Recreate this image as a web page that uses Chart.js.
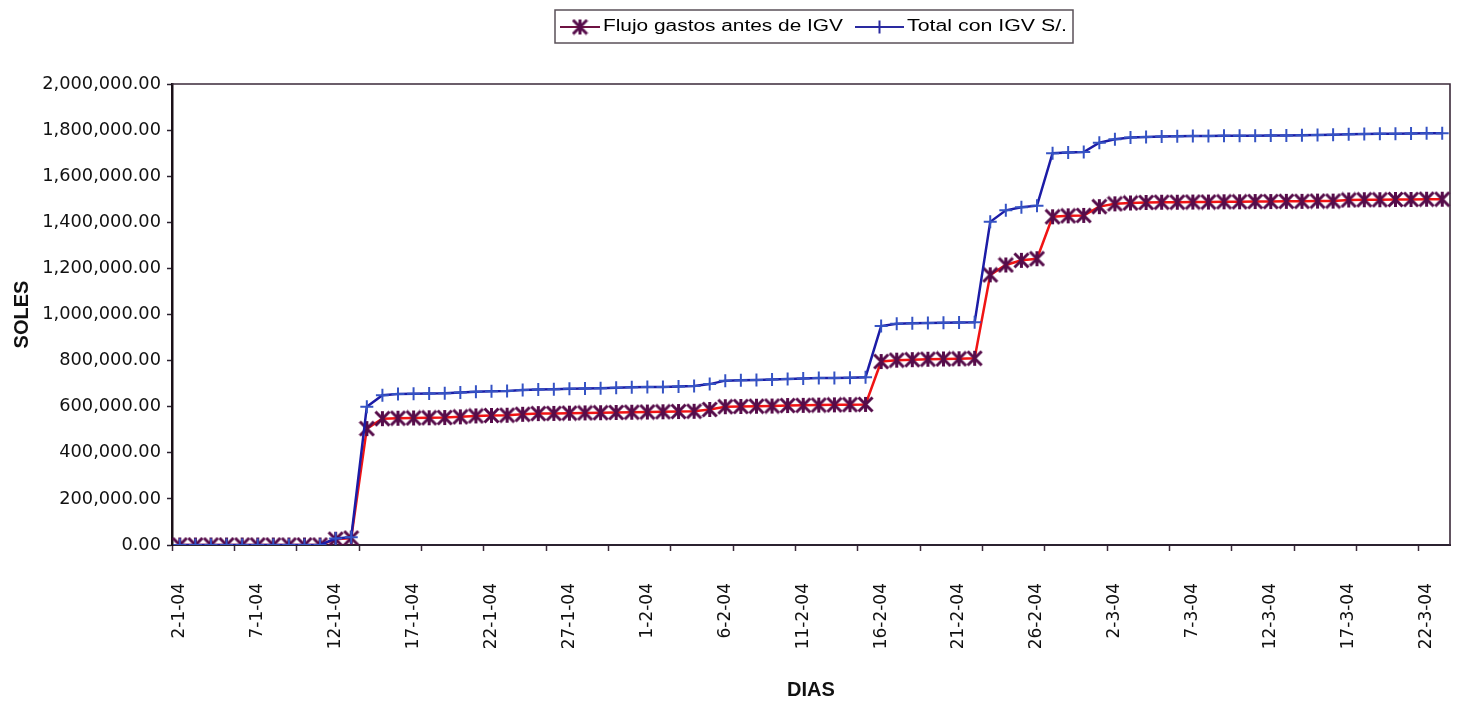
<!DOCTYPE html>
<html>
<head>
<meta charset="utf-8">
<script src="https://cdn.jsdelivr.net/npm/chart.js@4.4.1/dist/chart.umd.min.js"></script>
<style>
  html, body { margin: 0; padding: 0; background: #ffffff; }
  #wrap { width: 1462px; height: 705px; position: relative; }
</style>
</head>
<body>
<div id="wrap"><canvas id="chart" width="1462" height="705"></canvas></div>
<script>
// Days (d-m-yy), 2 Jan 2004 to 23 Mar 2004
const dias = [
  '2-1-04','3-1-04','4-1-04','5-1-04','6-1-04','7-1-04','8-1-04','9-1-04','10-1-04','11-1-04',
  '12-1-04','13-1-04','14-1-04','15-1-04','16-1-04','17-1-04','18-1-04','19-1-04','20-1-04','21-1-04',
  '22-1-04','23-1-04','24-1-04','25-1-04','26-1-04','27-1-04','28-1-04','29-1-04','30-1-04','31-1-04',
  '1-2-04','2-2-04','3-2-04','4-2-04','5-2-04','6-2-04','7-2-04','8-2-04','9-2-04','10-2-04',
  '11-2-04','12-2-04','13-2-04','14-2-04','15-2-04','16-2-04','17-2-04','18-2-04','19-2-04','20-2-04',
  '21-2-04','22-2-04','23-2-04','24-2-04','25-2-04','26-2-04','27-2-04','28-2-04','29-2-04','1-3-04',
  '2-3-04','3-3-04','4-3-04','5-3-04','6-3-04','7-3-04','8-3-04','9-3-04','10-3-04','11-3-04',
  '12-3-04','13-3-04','14-3-04','15-3-04','16-3-04','17-3-04','18-3-04','19-3-04','20-3-04','21-3-04',
  '22-3-04','23-3-04'
];

// Accumulated expenses before IGV (S/.)
const flujoGastos = [
  0, 0, 0, 0, 0, 0, 0, 0, 0, 0,
  25000, 30000, 505000, 548000, 550000, 551000, 552000, 553000, 556000, 560000,
  562000, 563000, 567000, 570000, 571000, 572000, 573000, 574000, 575000, 576000,
  577000, 578000, 579000, 580000, 588000, 600000, 601000, 602000, 603000, 605000,
  606000, 607000, 608000, 609000, 610000, 796000, 802000, 804000, 806000, 807000,
  808000, 810000, 1172000, 1215000, 1235000, 1242000, 1424000, 1428000, 1430000, 1468000,
  1480000, 1484000, 1486000, 1487000, 1487000, 1488000, 1488000, 1489000, 1489000, 1490000,
  1490000, 1491000, 1491000, 1492000, 1492000, 1497000, 1498000, 1498000, 1499000, 1499000,
  1500000, 1500000
];

// Accumulated total including IGV (S/.)
const totalConIgv = [
  0, 0, 0, 0, 0, 0, 0, 0, 0, 0,
  28000, 34000, 600000, 650000, 655000, 656000, 657000, 658000, 662000, 665000,
  667000, 668000, 672000, 675000, 676000, 678000, 679000, 680000, 682000, 684000,
  685000, 686000, 688000, 690000, 698000, 713000, 715000, 716000, 718000, 720000,
  722000, 724000, 725000, 726000, 728000, 950000, 960000, 962000, 963000, 964000,
  965000, 966000, 1402000, 1452000, 1465000, 1472000, 1700000, 1703000, 1705000, 1745000,
  1760000, 1768000, 1770000, 1772000, 1773000, 1774000, 1774000, 1775000, 1775000, 1776000,
  1777000, 1777000, 1778000, 1779000, 1780000, 1782000, 1783000, 1784000, 1784000, 1785000,
  1786000, 1786000
];

const yMin = 0;
const yMax = 2000000;
const yStep = 200000;

const seriesNames = ['Flujo gastos antes de IGV', 'Total con IGV S/.'];

// Excel-like asterisk marker (X with a vertical stroke)
function makeStar(size, color, lw) {
  const c = document.createElement('canvas');
  c.width = size; c.height = size;
  const g = c.getContext('2d');
  g.strokeStyle = color;
  g.lineWidth = lw;
  g.lineCap = 'butt';
  const a = 1.5, b = size - 1.5, m = size / 2;
  g.beginPath();
  g.moveTo(a, a); g.lineTo(b, b);
  g.moveTo(b, a); g.lineTo(a, b);
  g.moveTo(m, a - 0.5); g.lineTo(m, b + 0.5);
  g.stroke();
  return c;
}
const starMarker = makeStar(17, '#560c4a', 3);

const xTickFont = { family: 'DejaVu Sans', size: 17 };
const yTickFont = { family: 'DejaVu Sans', size: 17.8 };
const titleFont = { family: 'Liberation Sans', size: 20, weight: 'bold' };

// Plot frame (top and right edges)
const framePlugin = {
  id: 'frame',
  beforeDatasetsDraw(chart) {
    const { ctx, chartArea: a } = chart;
    ctx.save();
    ctx.strokeStyle = '#3b2a3a';
    ctx.lineWidth = 1.6;
    ctx.beginPath();
    ctx.moveTo(a.left, a.top);
    ctx.lineTo(a.right, a.top);
    ctx.lineTo(a.right, a.bottom);
    ctx.stroke();
    ctx.restore();
  }
};

// Boxed legend with line + marker samples
const boxLegend = {
  id: 'boxLegend',
  afterDraw(chart) {
    const { ctx } = chart;
    const box = { x: 555, y: 10, w: 518, h: 33 };
    const cy = box.y + box.h / 2 + 0.5;
    ctx.save();
    ctx.fillStyle = '#ffffff';
    ctx.fillRect(box.x, box.y, box.w, box.h);
    ctx.strokeStyle = '#5a5058';
    ctx.lineWidth = 1.5;
    ctx.strokeRect(box.x, box.y, box.w, box.h);

    const ds = chart.data.datasets;
    const items = [
      { x0: 560, x1: 600, tx: 603, tw: 240, line: '#6e1242', ds: ds[0] },
      { x0: 855, x1: 904, tx: 907, tw: 160, line: '#2a2aa0', ds: ds[1] }
    ];
    ctx.font = '16px "Liberation Sans"';
    ctx.textBaseline = 'middle';
    ctx.fillStyle = '#000000';
    items.forEach(it => {
      ctx.strokeStyle = it.line;
      ctx.lineWidth = 2;
      ctx.beginPath();
      ctx.moveTo(it.x0, cy); ctx.lineTo(it.x1, cy);
      ctx.stroke();
      Chart.helpers.drawPoint(ctx, {
        pointStyle: it.ds.pointStyle,
        radius: it.ds.pointRadius,
        borderWidth: it.ds.pointBorderWidth,
        rotation: 0
      }, (it.x0 + it.x1) / 2, cy);
      const w = ctx.measureText(it.ds.label).width;
      ctx.save();
      ctx.translate(it.tx, cy);
      ctx.scale(it.tw / w, 1);
      ctx.fillText(it.ds.label, 0, 0);
      ctx.restore();
    });
    ctx.restore();
  }
};

const ctxEl = document.getElementById('chart');
new Chart(ctxEl, {
  type: 'line',
  data: {
    labels: dias,
    datasets: [
      {
        label: seriesNames[0],
        data: flujoGastos,
        borderColor: '#f01414',
        backgroundColor: '#560c4a',
        borderWidth: 2.5,
        pointStyle: starMarker,
        pointRadius: 7,
        pointBorderWidth: 3,
        pointBorderColor: '#560c4a',
        tension: 0,
        fill: false,
        order: 2
      },
      {
        label: seriesNames[1],
        data: totalConIgv,
        borderColor: '#1c1ca6',
        backgroundColor: '#3553c4',
        borderWidth: 2.5,
        pointStyle: 'cross',
        pointRadius: 6.5,
        pointBorderWidth: 2,
        pointBorderColor: '#3553c4',
        tension: 0,
        fill: false,
        order: 1
      }
    ]
  },
  options: {
    responsive: false,
    animation: false,
    devicePixelRatio: 1,
    layout: { padding: { top: 84, right: 12, left: 0, bottom: 0 } },
    plugins: {
      legend: { display: false },
      tooltip: { enabled: false },
      title: { display: false }
    },
    scales: {
      x: {
        type: 'category',
        offset: true,
        grid: {
          offset: true,
          drawOnChartArea: false,
          drawTicks: true,
          tickLength: 6,
          tickWidth: 1.5,
          tickColor: (c) => (c.index % 4 === 0 ? '#3b2a3a' : 'rgba(0,0,0,0)')
        },
        border: { color: '#2b2230', width: 2 },
        ticks: {
          autoSkip: false,
          minRotation: 90,
          maxRotation: 90,
          padding: 32,
          color: '#111111',
          font: xTickFont,
          callback: (v, i) => (i % 5 === 0 ? dias[i] : '')
        },
        title: {
          display: true,
          text: 'DIAS',
          color: '#111111',
          font: titleFont,
          padding: { top: 0, bottom: 3 }
        },
        afterFit: (s) => { s.height = 160; s.paddingLeft = 0; s.paddingRight = 0; }
      },
      y: {
        min: yMin,
        max: yMax,
        grid: {
          drawOnChartArea: false,
          drawTicks: true,
          tickLength: 5,
          tickWidth: 1.5,
          tickColor: '#2b2230'
        },
        border: { color: '#1a1018', width: 2.5 },
        ticks: {
          stepSize: yStep,
          padding: 6,
          color: '#111111',
          font: yTickFont,
          callback: (v) => Number(v).toLocaleString('en-US', { minimumFractionDigits: 2, maximumFractionDigits: 2 })
        },
        title: {
          display: true,
          text: 'SOLES',
          color: '#111111',
          font: titleFont,
          padding: { top: 10, bottom: 0 }
        },
        afterFit: (s) => { s.width = 172; s.paddingTop = 0; s.paddingBottom = 0; }
      }
    }
  },
  plugins: [framePlugin, boxLegend]
});
</script>
</body>
</html>
